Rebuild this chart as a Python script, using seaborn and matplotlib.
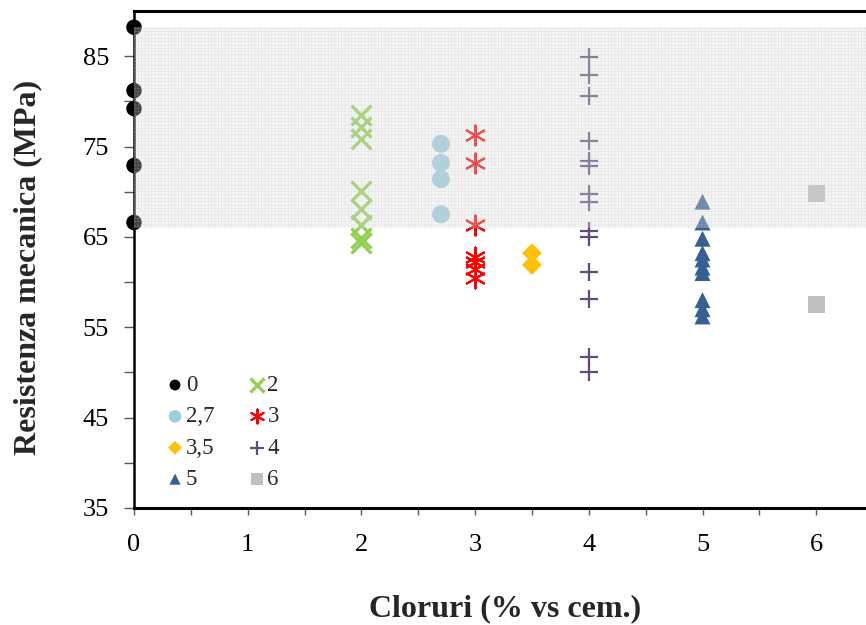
import matplotlib
matplotlib.use("Agg")
import matplotlib.pyplot as plt
import numpy as np
import pandas as pd
import seaborn as sns

# Resistenza mecanica (MPa) per contenuto di cloruri (% vs cemento)
gruppi = ["0", "2", "2,7", "3", "3,5", "4", "5", "6"]
cloruri = [0, 2, 2.7, 3, 3.5, 4, 5, 6]
res_0 = [88.2, 81.2, 79.2, 72.9, 66.6]
res_2 = [78.5, 77.2, 75.8, 70.1, 68.1, 66.3, 64.9, 64.3]
res_27 = [75.3, 73.2, 71.4, 67.5]
res_3 = [76.3, 73.2, 66.3, 62.8, 62.2, 61.5, 60.4]
res_35 = [63.2, 61.9]
res_4 = [84.9, 82.9, 80.6, 75.6, 73.4, 72.9, 69.7, 68.9, 65.7, 65.0,
         61.1, 58.1, 51.7, 50.0]
res_5 = [68.9, 66.6, 64.8, 63.2, 62.5, 61.6, 61.0, 58.0, 57.0, 56.2]
res_6 = [69.8, 57.5]
resistenze = [res_0, res_2, res_27, res_3, res_35, res_4, res_5, res_6]

# fascia di riferimento
fascia = (66.0, 88.2)

y_ticks = [35, 45, 55, 65, 75, 85]
x_ticks = [0, 1, 2, 3, 4, 5, 6]

df = pd.DataFrame({
    "gruppo": np.repeat(gruppi, [len(r) for r in resistenze]),
    "cloruri": np.repeat(cloruri, [len(r) for r in resistenze]),
    "resistenza": np.concatenate(resistenze),
})

stili = {
    "0":   dict(marker="o", color="#000000", s=125, linewidth=0),
    "2":   dict(marker="x", color="#92d050", s=207, linewidth=2.4),
    "2,7": dict(marker="o", color="#9acde0", s=168, linewidth=0),
    "3":   dict(marker=(6, 2, 0), color="#ff0000", s=207, linewidth=1.5),
    "3,5": dict(marker="D", color="#ffc000", s=101, linewidth=0),
    "4":   dict(marker="+", color="#604a7b", s=187, linewidth=1.6),
    "5":   dict(marker="^", color="#376092", s=133, linewidth=0),
    "6":   dict(marker="s", color="#bfbfbf", s=150, linewidth=0),
}

sns.set_style("ticks")
plt.rcParams["font.family"] = ["Liberation Serif", "DejaVu Serif"]
plt.rcParams["hatch.linewidth"] = 0.4

fig = plt.figure(figsize=(8.66, 6.25), dpi=100)
ax = fig.add_axes([134 / 866, 117 / 625, 732 / 866, 497 / 625])

for g in gruppi:
    st = stili[g]
    sub = df[df["gruppo"] == g]
    kw = dict(marker=st["marker"], s=st["s"], linewidth=st["linewidth"])
    if st["linewidth"] == 0:
        kw["edgecolor"] = "none"
    sns.scatterplot(data=sub, x="cloruri", y="resistenza", color=st["color"],
                    ax=ax, label=g, clip_on=False, zorder=4, **kw)

ax.axhspan(*fascia, facecolor=(0.88, 0.88, 0.88, 0.3),
           edgecolor=(0.75, 0.75, 0.75, 0.3), hatch="+++++",
           linewidth=0, zorder=5)

ax.set_xlim(0, 732 / 113.7)
ax.set_ylim(35, 90)
ax.set_xticks(x_ticks)
ax.set_xticks(np.arange(0.5, 6.5, 1.0), minor=True)
ax.set_yticks(y_ticks)
ax.set_yticks(np.arange(40, 90, 10), minor=True)
ax.set_xticklabels([str(t) for t in x_ticks])
ax.set_yticklabels([str(t) for t in y_ticks])

ax.tick_params(axis="both", which="both", direction="out", length=5,
               width=1, color="#595959", labelsize=19, labelcolor="black")
ax.tick_params(axis="y", which="both", length=7, pad=11)
ax.tick_params(axis="x", which="both", length=5, pad=14)

for side in ["top", "bottom", "left"]:
    ax.spines[side].set_linewidth(2.2)
    ax.spines[side].set_color("black")
ax.spines["right"].set_visible(False)
ax.spines["left"].set_linewidth(1.8)

ax.set_xlabel("Cloruri (% vs cem.)", fontsize=23, fontweight="bold",
              va="center")
ax.xaxis.set_label_coords(0.507, -0.203)
ax.set_ylabel("Resistenza mecanica (MPa)", fontsize=23, fontweight="bold",
              va="center")
ax.yaxis.set_label_coords(-0.145, 0.484)

handles, labels = ax.get_legend_handles_labels()
ordine = ["0", "2,7", "3,5", "5", "2", "3", "4", "6"]
hmap = dict(zip(labels, handles))
ax.legend([hmap[k] for k in ordine], ordine, ncol=2, frameon=False,
          loc="upper left", bbox_to_anchor=(167 / 866, 1 - 375 / 625),
          bbox_transform=fig.transFigure, borderaxespad=0, borderpad=0,
          fontsize=16.5, markerscale=0.7, handlelength=0.7,
          handletextpad=0.12, columnspacing=1.5, labelspacing=0.45,
          scatterpoints=1)

fig.savefig("out.png", dpi=100)
